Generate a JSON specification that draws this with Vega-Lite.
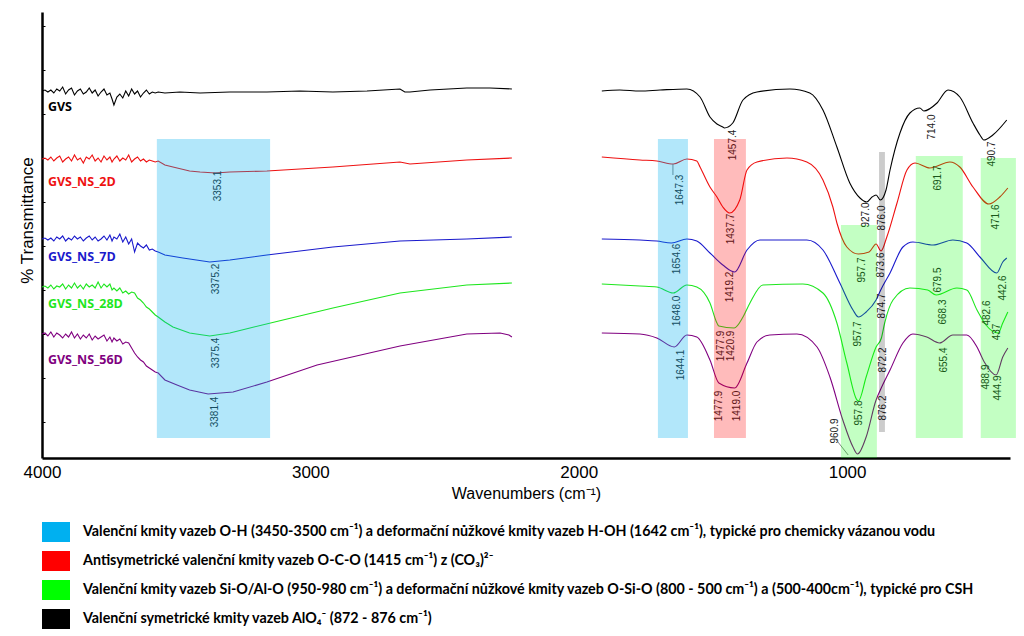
{
"$schema":"https://vega.github.io/schema/vega-lite/v6.json",
"width":968,"height":446,
"autosize":{"type":"none"},
"padding":{"left":42,"top":12,"right":14,"bottom":178},
"background":"white",
"config":{"view":{"stroke":null},"font":"Liberation Sans"},
"datasets":{
"spectra":[
{"series":"GVS","seg":"a","wn":4000,"t":367},{"series":"GVS","seg":"a","wn":3989,"t":368},{"series":"GVS","seg":"a","wn":3978,"t":366},{"series":"GVS","seg":"a","wn":3967,"t":368},{"series":"GVS","seg":"a","wn":3956,"t":365},{"series":"GVS","seg":"a","wn":3945,"t":369},{"series":"GVS","seg":"a","wn":3934,"t":367},{"series":"GVS","seg":"a","wn":3923,"t":371},{"series":"GVS","seg":"a","wn":3912,"t":364},{"series":"GVS","seg":"a","wn":3901,"t":368},{"series":"GVS","seg":"a","wn":3890,"t":370},{"series":"GVS","seg":"a","wn":3879,"t":363},{"series":"GVS","seg":"a","wn":3868,"t":367},{"series":"GVS","seg":"a","wn":3857,"t":369},{"series":"GVS","seg":"a","wn":3846,"t":364},{"series":"GVS","seg":"a","wn":3835,"t":366},{"series":"GVS","seg":"a","wn":3824,"t":370},{"series":"GVS","seg":"a","wn":3813,"t":365},{"series":"GVS","seg":"a","wn":3802,"t":368},{"series":"GVS","seg":"a","wn":3791,"t":362},{"series":"GVS","seg":"a","wn":3780,"t":366},{"series":"GVS","seg":"a","wn":3769,"t":369},{"series":"GVS","seg":"a","wn":3758,"t":363},{"series":"GVS","seg":"a","wn":3747,"t":365},{"series":"GVS","seg":"a","wn":3739,"t":359},{"series":"GVS","seg":"a","wn":3732,"t":353},{"series":"GVS","seg":"a","wn":3721,"t":361},{"series":"GVS","seg":"a","wn":3710,"t":364},{"series":"GVS","seg":"a","wn":3699,"t":360},{"series":"GVS","seg":"a","wn":3688,"t":367},{"series":"GVS","seg":"a","wn":3677,"t":362},{"series":"GVS","seg":"a","wn":3666,"t":369},{"series":"GVS","seg":"a","wn":3655,"t":364},{"series":"GVS","seg":"a","wn":3644,"t":367},{"series":"GVS","seg":"a","wn":3633,"t":361},{"series":"GVS","seg":"a","wn":3622,"t":365},{"series":"GVS","seg":"a","wn":3611,"t":368},{"series":"GVS","seg":"a","wn":3600,"t":364},{"series":"GVS","seg":"a","wn":3589,"t":366},{"series":"GVS","seg":"a","wn":3578,"t":365},{"series":"GVS","seg":"a","wn":3567,"t":366},{"series":"GVS","seg":"a","wn":3542,"t":365},{"series":"GVS","seg":"a","wn":3486,"t":366},{"series":"GVS","seg":"a","wn":3411,"t":365},{"series":"GVS","seg":"a","wn":3300,"t":366},{"series":"GVS","seg":"a","wn":3162,"t":366},{"series":"GVS","seg":"a","wn":3039,"t":367},{"series":"GVS","seg":"a","wn":2916,"t":366},{"series":"GVS","seg":"a","wn":2789,"t":367},{"series":"GVS","seg":"a","wn":2666,"t":369},{"series":"GVS","seg":"a","wn":2648,"t":366},{"series":"GVS","seg":"a","wn":2629,"t":366},{"series":"GVS","seg":"a","wn":2554,"t":368},{"series":"GVS","seg":"a","wn":2417,"t":370},{"series":"GVS","seg":"a","wn":2331,"t":370},{"series":"GVS","seg":"a","wn":2249,"t":369},
{"series":"GVS","seg":"b","wn":1914,"t":367},{"series":"GVS","seg":"b","wn":1847,"t":368},{"series":"GVS","seg":"b","wn":1772,"t":367},{"series":"GVS","seg":"b","wn":1697,"t":368},{"series":"GVS","seg":"b","wn":1597,"t":369},{"series":"GVS","seg":"b","wn":1548,"t":361},{"series":"GVS","seg":"b","wn":1511,"t":341},{"series":"GVS","seg":"b","wn":1485,"t":334},{"series":"GVS","seg":"b","wn":1463,"t":331},{"series":"GVS","seg":"b","wn":1457.4,"t":330},{"series":"GVS","seg":"b","wn":1426,"t":335},{"series":"GVS","seg":"b","wn":1388,"t":358},{"series":"GVS","seg":"b","wn":1336,"t":366},{"series":"GVS","seg":"b","wn":1213,"t":369},{"series":"GVS","seg":"b","wn":1139,"t":365},{"series":"GVS","seg":"b","wn":1090,"t":348},{"series":"GVS","seg":"b","wn":1038,"t":311},{"series":"GVS","seg":"b","wn":990,"t":275},{"series":"GVS","seg":"b","wn":952,"t":260},{"series":"GVS","seg":"b","wn":927,"t":256},{"series":"GVS","seg":"b","wn":907,"t":261},{"series":"GVS","seg":"b","wn":892,"t":263},{"series":"GVS","seg":"b","wn":876,"t":258},{"series":"GVS","seg":"b","wn":855,"t":268},{"series":"GVS","seg":"b","wn":840,"t":288},{"series":"GVS","seg":"b","wn":803,"t":325},{"series":"GVS","seg":"b","wn":766,"t":345},{"series":"GVS","seg":"b","wn":729,"t":350},{"series":"GVS","seg":"b","wn":714,"t":347},{"series":"GVS","seg":"b","wn":665,"t":355},{"series":"GVS","seg":"b","wn":624,"t":368},{"series":"GVS","seg":"b","wn":580,"t":361},{"series":"GVS","seg":"b","wn":531,"t":335},{"series":"GVS","seg":"b","wn":505,"t":323},{"series":"GVS","seg":"b","wn":490.7,"t":318},{"series":"GVS","seg":"b","wn":457,"t":323},{"series":"GVS","seg":"b","wn":405,"t":338},
{"series":"GVS_NS_2D","seg":"a","wn":4000,"t":299},{"series":"GVS_NS_2D","seg":"a","wn":3989,"t":300},{"series":"GVS_NS_2D","seg":"a","wn":3978,"t":298},{"series":"GVS_NS_2D","seg":"a","wn":3967,"t":301},{"series":"GVS_NS_2D","seg":"a","wn":3956,"t":297},{"series":"GVS_NS_2D","seg":"a","wn":3945,"t":300},{"series":"GVS_NS_2D","seg":"a","wn":3934,"t":302},{"series":"GVS_NS_2D","seg":"a","wn":3923,"t":296},{"series":"GVS_NS_2D","seg":"a","wn":3912,"t":299},{"series":"GVS_NS_2D","seg":"a","wn":3901,"t":301},{"series":"GVS_NS_2D","seg":"a","wn":3890,"t":297},{"series":"GVS_NS_2D","seg":"a","wn":3879,"t":303},{"series":"GVS_NS_2D","seg":"a","wn":3868,"t":298},{"series":"GVS_NS_2D","seg":"a","wn":3857,"t":300},{"series":"GVS_NS_2D","seg":"a","wn":3846,"t":295},{"series":"GVS_NS_2D","seg":"a","wn":3835,"t":301},{"series":"GVS_NS_2D","seg":"a","wn":3824,"t":299},{"series":"GVS_NS_2D","seg":"a","wn":3813,"t":303},{"series":"GVS_NS_2D","seg":"a","wn":3802,"t":297},{"series":"GVS_NS_2D","seg":"a","wn":3791,"t":300},{"series":"GVS_NS_2D","seg":"a","wn":3780,"t":296},{"series":"GVS_NS_2D","seg":"a","wn":3769,"t":302},{"series":"GVS_NS_2D","seg":"a","wn":3758,"t":298},{"series":"GVS_NS_2D","seg":"a","wn":3747,"t":301},{"series":"GVS_NS_2D","seg":"a","wn":3739,"t":296},{"series":"GVS_NS_2D","seg":"a","wn":3732,"t":299},{"series":"GVS_NS_2D","seg":"a","wn":3721,"t":302},{"series":"GVS_NS_2D","seg":"a","wn":3710,"t":297},{"series":"GVS_NS_2D","seg":"a","wn":3699,"t":300},{"series":"GVS_NS_2D","seg":"a","wn":3688,"t":298},{"series":"GVS_NS_2D","seg":"a","wn":3677,"t":303},{"series":"GVS_NS_2D","seg":"a","wn":3666,"t":296},{"series":"GVS_NS_2D","seg":"a","wn":3655,"t":299},{"series":"GVS_NS_2D","seg":"a","wn":3644,"t":301},{"series":"GVS_NS_2D","seg":"a","wn":3633,"t":297},{"series":"GVS_NS_2D","seg":"a","wn":3622,"t":299},{"series":"GVS_NS_2D","seg":"a","wn":3611,"t":296},{"series":"GVS_NS_2D","seg":"a","wn":3600,"t":298},{"series":"GVS_NS_2D","seg":"a","wn":3589,"t":297},{"series":"GVS_NS_2D","seg":"a","wn":3578,"t":296},{"series":"GVS_NS_2D","seg":"a","wn":3567,"t":297},{"series":"GVS_NS_2D","seg":"a","wn":3542,"t":293},{"series":"GVS_NS_2D","seg":"a","wn":3512,"t":291},{"series":"GVS_NS_2D","seg":"a","wn":3450,"t":287},{"series":"GVS_NS_2D","seg":"a","wn":3411,"t":286},{"series":"GVS_NS_2D","seg":"a","wn":3353,"t":285},{"series":"GVS_NS_2D","seg":"a","wn":3300,"t":286},{"series":"GVS_NS_2D","seg":"a","wn":3162,"t":287},{"series":"GVS_NS_2D","seg":"a","wn":2916,"t":291},{"series":"GVS_NS_2D","seg":"a","wn":2666,"t":296},{"series":"GVS_NS_2D","seg":"a","wn":2629,"t":294},{"series":"GVS_NS_2D","seg":"a","wn":2417,"t":298},{"series":"GVS_NS_2D","seg":"a","wn":2249,"t":300},
{"series":"GVS_NS_2D","seg":"b","wn":1914,"t":301},{"series":"GVS_NS_2D","seg":"b","wn":1772,"t":298},{"series":"GVS_NS_2D","seg":"b","wn":1709,"t":297},{"series":"GVS_NS_2D","seg":"b","wn":1647.3,"t":294},{"series":"GVS_NS_2D","seg":"b","wn":1597,"t":299},{"series":"GVS_NS_2D","seg":"b","wn":1560,"t":297},{"series":"GVS_NS_2D","seg":"b","wn":1548,"t":291},{"series":"GVS_NS_2D","seg":"b","wn":1511,"t":271},{"series":"GVS_NS_2D","seg":"b","wn":1485,"t":261},{"series":"GVS_NS_2D","seg":"b","wn":1463,"t":251},{"series":"GVS_NS_2D","seg":"b","wn":1437.7,"t":245},{"series":"GVS_NS_2D","seg":"b","wn":1400,"t":258},{"series":"GVS_NS_2D","seg":"b","wn":1373,"t":288},{"series":"GVS_NS_2D","seg":"b","wn":1336,"t":296},{"series":"GVS_NS_2D","seg":"b","wn":1224,"t":300},{"series":"GVS_NS_2D","seg":"b","wn":1150,"t":296},{"series":"GVS_NS_2D","seg":"b","wn":1090,"t":278},{"series":"GVS_NS_2D","seg":"b","wn":1053,"t":251},{"series":"GVS_NS_2D","seg":"b","wn":1038,"t":235},{"series":"GVS_NS_2D","seg":"b","wn":1001,"t":211},{"series":"GVS_NS_2D","seg":"b","wn":957.7,"t":204},{"series":"GVS_NS_2D","seg":"b","wn":918,"t":206},{"series":"GVS_NS_2D","seg":"b","wn":892,"t":214},{"series":"GVS_NS_2D","seg":"b","wn":873.6,"t":207},{"series":"GVS_NS_2D","seg":"b","wn":852,"t":221},{"series":"GVS_NS_2D","seg":"b","wn":814,"t":255},{"series":"GVS_NS_2D","seg":"b","wn":777,"t":288},{"series":"GVS_NS_2D","seg":"b","wn":747,"t":295},{"series":"GVS_NS_2D","seg":"b","wn":691.7,"t":290},{"series":"GVS_NS_2D","seg":"b","wn":617,"t":296},{"series":"GVS_NS_2D","seg":"b","wn":580,"t":291},{"series":"GVS_NS_2D","seg":"b","wn":531,"t":271},{"series":"GVS_NS_2D","seg":"b","wn":471.6,"t":254},{"series":"GVS_NS_2D","seg":"b","wn":431,"t":261},{"series":"GVS_NS_2D","seg":"b","wn":401,"t":270},
{"series":"GVS_NS_7D","seg":"a","wn":4000,"t":219},{"series":"GVS_NS_7D","seg":"a","wn":3989,"t":220},{"series":"GVS_NS_7D","seg":"a","wn":3978,"t":218},{"series":"GVS_NS_7D","seg":"a","wn":3967,"t":220},{"series":"GVS_NS_7D","seg":"a","wn":3956,"t":217},{"series":"GVS_NS_7D","seg":"a","wn":3945,"t":221},{"series":"GVS_NS_7D","seg":"a","wn":3934,"t":219},{"series":"GVS_NS_7D","seg":"a","wn":3923,"t":222},{"series":"GVS_NS_7D","seg":"a","wn":3912,"t":217},{"series":"GVS_NS_7D","seg":"a","wn":3901,"t":220},{"series":"GVS_NS_7D","seg":"a","wn":3890,"t":218},{"series":"GVS_NS_7D","seg":"a","wn":3879,"t":222},{"series":"GVS_NS_7D","seg":"a","wn":3868,"t":219},{"series":"GVS_NS_7D","seg":"a","wn":3857,"t":221},{"series":"GVS_NS_7D","seg":"a","wn":3846,"t":217},{"series":"GVS_NS_7D","seg":"a","wn":3835,"t":220},{"series":"GVS_NS_7D","seg":"a","wn":3824,"t":222},{"series":"GVS_NS_7D","seg":"a","wn":3813,"t":218},{"series":"GVS_NS_7D","seg":"a","wn":3802,"t":221},{"series":"GVS_NS_7D","seg":"a","wn":3791,"t":217},{"series":"GVS_NS_7D","seg":"a","wn":3780,"t":219},{"series":"GVS_NS_7D","seg":"a","wn":3769,"t":222},{"series":"GVS_NS_7D","seg":"a","wn":3758,"t":218},{"series":"GVS_NS_7D","seg":"a","wn":3747,"t":223},{"series":"GVS_NS_7D","seg":"a","wn":3739,"t":217},{"series":"GVS_NS_7D","seg":"a","wn":3732,"t":221},{"series":"GVS_NS_7D","seg":"a","wn":3721,"t":219},{"series":"GVS_NS_7D","seg":"a","wn":3710,"t":224},{"series":"GVS_NS_7D","seg":"a","wn":3699,"t":216},{"series":"GVS_NS_7D","seg":"a","wn":3688,"t":221},{"series":"GVS_NS_7D","seg":"a","wn":3677,"t":214},{"series":"GVS_NS_7D","seg":"a","wn":3666,"t":219},{"series":"GVS_NS_7D","seg":"a","wn":3655,"t":206},{"series":"GVS_NS_7D","seg":"a","wn":3644,"t":215},{"series":"GVS_NS_7D","seg":"a","wn":3633,"t":212},{"series":"GVS_NS_7D","seg":"a","wn":3622,"t":210},{"series":"GVS_NS_7D","seg":"a","wn":3611,"t":213},{"series":"GVS_NS_7D","seg":"a","wn":3600,"t":208},{"series":"GVS_NS_7D","seg":"a","wn":3589,"t":209},{"series":"GVS_NS_7D","seg":"a","wn":3578,"t":207},{"series":"GVS_NS_7D","seg":"a","wn":3567,"t":206},{"series":"GVS_NS_7D","seg":"a","wn":3542,"t":203},{"series":"GVS_NS_7D","seg":"a","wn":3475,"t":200},{"series":"GVS_NS_7D","seg":"a","wn":3375,"t":196},{"series":"GVS_NS_7D","seg":"a","wn":3300,"t":198},{"series":"GVS_NS_7D","seg":"a","wn":3162,"t":203},{"series":"GVS_NS_7D","seg":"a","wn":2916,"t":211},{"series":"GVS_NS_7D","seg":"a","wn":2666,"t":217},{"series":"GVS_NS_7D","seg":"a","wn":2417,"t":219},{"series":"GVS_NS_7D","seg":"a","wn":2249,"t":221},
{"series":"GVS_NS_7D","seg":"b","wn":1914,"t":219},{"series":"GVS_NS_7D","seg":"b","wn":1772,"t":218},{"series":"GVS_NS_7D","seg":"b","wn":1709,"t":217},{"series":"GVS_NS_7D","seg":"b","wn":1654.6,"t":215},{"series":"GVS_NS_7D","seg":"b","wn":1597,"t":219},{"series":"GVS_NS_7D","seg":"b","wn":1560,"t":217},{"series":"GVS_NS_7D","seg":"b","wn":1511,"t":205},{"series":"GVS_NS_7D","seg":"b","wn":1463,"t":193},{"series":"GVS_NS_7D","seg":"b","wn":1419.2,"t":186},{"series":"GVS_NS_7D","seg":"b","wn":1373,"t":208},{"series":"GVS_NS_7D","seg":"b","wn":1325,"t":218},{"series":"GVS_NS_7D","seg":"b","wn":1150,"t":218},{"series":"GVS_NS_7D","seg":"b","wn":1090,"t":208},{"series":"GVS_NS_7D","seg":"b","wn":1027,"t":175},{"series":"GVS_NS_7D","seg":"b","wn":978,"t":148},{"series":"GVS_NS_7D","seg":"b","wn":957.7,"t":141},{"series":"GVS_NS_7D","seg":"b","wn":929,"t":146},{"series":"GVS_NS_7D","seg":"b","wn":892,"t":158},{"series":"GVS_NS_7D","seg":"b","wn":874.7,"t":168},{"series":"GVS_NS_7D","seg":"b","wn":840,"t":185},{"series":"GVS_NS_7D","seg":"b","wn":792,"t":211},{"series":"GVS_NS_7D","seg":"b","wn":755,"t":216},{"series":"GVS_NS_7D","seg":"b","wn":679.5,"t":213},{"series":"GVS_NS_7D","seg":"b","wn":606,"t":218},{"series":"GVS_NS_7D","seg":"b","wn":554,"t":215},{"series":"GVS_NS_7D","seg":"b","wn":505,"t":201},{"series":"GVS_NS_7D","seg":"b","wn":442.6,"t":185},{"series":"GVS_NS_7D","seg":"b","wn":420,"t":196},{"series":"GVS_NS_7D","seg":"b","wn":405,"t":200},
{"series":"GVS_NS_28D","seg":"a","wn":4000,"t":171},{"series":"GVS_NS_28D","seg":"a","wn":3989,"t":172},{"series":"GVS_NS_28D","seg":"a","wn":3978,"t":170},{"series":"GVS_NS_28D","seg":"a","wn":3967,"t":173},{"series":"GVS_NS_28D","seg":"a","wn":3956,"t":169},{"series":"GVS_NS_28D","seg":"a","wn":3945,"t":172},{"series":"GVS_NS_28D","seg":"a","wn":3934,"t":171},{"series":"GVS_NS_28D","seg":"a","wn":3923,"t":174},{"series":"GVS_NS_28D","seg":"a","wn":3912,"t":169},{"series":"GVS_NS_28D","seg":"a","wn":3901,"t":173},{"series":"GVS_NS_28D","seg":"a","wn":3890,"t":170},{"series":"GVS_NS_28D","seg":"a","wn":3879,"t":175},{"series":"GVS_NS_28D","seg":"a","wn":3868,"t":170},{"series":"GVS_NS_28D","seg":"a","wn":3857,"t":173},{"series":"GVS_NS_28D","seg":"a","wn":3846,"t":169},{"series":"GVS_NS_28D","seg":"a","wn":3835,"t":174},{"series":"GVS_NS_28D","seg":"a","wn":3824,"t":171},{"series":"GVS_NS_28D","seg":"a","wn":3813,"t":173},{"series":"GVS_NS_28D","seg":"a","wn":3802,"t":170},{"series":"GVS_NS_28D","seg":"a","wn":3791,"t":176},{"series":"GVS_NS_28D","seg":"a","wn":3780,"t":170},{"series":"GVS_NS_28D","seg":"a","wn":3769,"t":174},{"series":"GVS_NS_28D","seg":"a","wn":3758,"t":171},{"series":"GVS_NS_28D","seg":"a","wn":3747,"t":174},{"series":"GVS_NS_28D","seg":"a","wn":3739,"t":168},{"series":"GVS_NS_28D","seg":"a","wn":3732,"t":170},{"series":"GVS_NS_28D","seg":"a","wn":3721,"t":167},{"series":"GVS_NS_28D","seg":"a","wn":3710,"t":170},{"series":"GVS_NS_28D","seg":"a","wn":3699,"t":165},{"series":"GVS_NS_28D","seg":"a","wn":3688,"t":167},{"series":"GVS_NS_28D","seg":"a","wn":3677,"t":164},{"series":"GVS_NS_28D","seg":"a","wn":3666,"t":166},{"series":"GVS_NS_28D","seg":"a","wn":3655,"t":165},{"series":"GVS_NS_28D","seg":"a","wn":3644,"t":160},{"series":"GVS_NS_28D","seg":"a","wn":3633,"t":158},{"series":"GVS_NS_28D","seg":"a","wn":3622,"t":155},{"series":"GVS_NS_28D","seg":"a","wn":3611,"t":151},{"series":"GVS_NS_28D","seg":"a","wn":3600,"t":149},{"series":"GVS_NS_28D","seg":"a","wn":3589,"t":146},{"series":"GVS_NS_28D","seg":"a","wn":3578,"t":143},{"series":"GVS_NS_28D","seg":"a","wn":3567,"t":141},{"series":"GVS_NS_28D","seg":"a","wn":3542,"t":136},{"series":"GVS_NS_28D","seg":"a","wn":3512,"t":131},{"series":"GVS_NS_28D","seg":"a","wn":3450,"t":125},{"series":"GVS_NS_28D","seg":"a","wn":3375,"t":122},{"series":"GVS_NS_28D","seg":"a","wn":3300,"t":125},{"series":"GVS_NS_28D","seg":"a","wn":3225,"t":130},{"series":"GVS_NS_28D","seg":"a","wn":3102,"t":138},{"series":"GVS_NS_28D","seg":"a","wn":2916,"t":150},{"series":"GVS_NS_28D","seg":"a","wn":2666,"t":165},{"series":"GVS_NS_28D","seg":"a","wn":2417,"t":173},{"series":"GVS_NS_28D","seg":"a","wn":2249,"t":175},
{"series":"GVS_NS_28D","seg":"b","wn":1914,"t":174},{"series":"GVS_NS_28D","seg":"b","wn":1772,"t":172},{"series":"GVS_NS_28D","seg":"b","wn":1709,"t":171},{"series":"GVS_NS_28D","seg":"b","wn":1648,"t":165},{"series":"GVS_NS_28D","seg":"b","wn":1597,"t":173},{"series":"GVS_NS_28D","seg":"b","wn":1560,"t":171},{"series":"GVS_NS_28D","seg":"b","wn":1511,"t":155},{"series":"GVS_NS_28D","seg":"b","wn":1485,"t":135},{"series":"GVS_NS_28D","seg":"b","wn":1477.9,"t":132},{"series":"GVS_NS_28D","seg":"b","wn":1420.9,"t":130},{"series":"GVS_NS_28D","seg":"b","wn":1388,"t":141},{"series":"GVS_NS_28D","seg":"b","wn":1362,"t":155},{"series":"GVS_NS_28D","seg":"b","wn":1314,"t":173},{"series":"GVS_NS_28D","seg":"b","wn":1165,"t":174},{"series":"GVS_NS_28D","seg":"b","wn":1090,"t":165},{"series":"GVS_NS_28D","seg":"b","wn":1038,"t":135},{"series":"GVS_NS_28D","seg":"b","wn":1001,"t":95},{"series":"GVS_NS_28D","seg":"b","wn":963,"t":58},{"series":"GVS_NS_28D","seg":"b","wn":957.8,"t":57},{"series":"GVS_NS_28D","seg":"b","wn":929,"t":81},{"series":"GVS_NS_28D","seg":"b","wn":892,"t":111},{"series":"GVS_NS_28D","seg":"b","wn":872.2,"t":120},{"series":"GVS_NS_28D","seg":"b","wn":860,"t":135},{"series":"GVS_NS_28D","seg":"b","wn":829,"t":158},{"series":"GVS_NS_28D","seg":"b","wn":766,"t":170},{"series":"GVS_NS_28D","seg":"b","wn":700,"t":168},{"series":"GVS_NS_28D","seg":"b","wn":668.3,"t":163},{"series":"GVS_NS_28D","seg":"b","wn":591,"t":170},{"series":"GVS_NS_28D","seg":"b","wn":554,"t":168},{"series":"GVS_NS_28D","seg":"b","wn":516,"t":148},{"series":"GVS_NS_28D","seg":"b","wn":482.6,"t":133},{"series":"GVS_NS_28D","seg":"b","wn":437,"t":125},{"series":"GVS_NS_28D","seg":"b","wn":420,"t":135},{"series":"GVS_NS_28D","seg":"b","wn":401,"t":146},
{"series":"GVS_NS_56D","seg":"a","wn":4000,"t":124},{"series":"GVS_NS_56D","seg":"a","wn":3989,"t":125},{"series":"GVS_NS_56D","seg":"a","wn":3978,"t":122},{"series":"GVS_NS_56D","seg":"a","wn":3967,"t":126},{"series":"GVS_NS_56D","seg":"a","wn":3956,"t":121},{"series":"GVS_NS_56D","seg":"a","wn":3945,"t":125},{"series":"GVS_NS_56D","seg":"a","wn":3934,"t":123},{"series":"GVS_NS_56D","seg":"a","wn":3923,"t":120},{"series":"GVS_NS_56D","seg":"a","wn":3912,"t":124},{"series":"GVS_NS_56D","seg":"a","wn":3901,"t":121},{"series":"GVS_NS_56D","seg":"a","wn":3890,"t":126},{"series":"GVS_NS_56D","seg":"a","wn":3879,"t":120},{"series":"GVS_NS_56D","seg":"a","wn":3868,"t":124},{"series":"GVS_NS_56D","seg":"a","wn":3857,"t":119},{"series":"GVS_NS_56D","seg":"a","wn":3846,"t":123},{"series":"GVS_NS_56D","seg":"a","wn":3835,"t":120},{"series":"GVS_NS_56D","seg":"a","wn":3824,"t":124},{"series":"GVS_NS_56D","seg":"a","wn":3813,"t":118},{"series":"GVS_NS_56D","seg":"a","wn":3802,"t":122},{"series":"GVS_NS_56D","seg":"a","wn":3791,"t":119},{"series":"GVS_NS_56D","seg":"a","wn":3780,"t":121},{"series":"GVS_NS_56D","seg":"a","wn":3769,"t":123},{"series":"GVS_NS_56D","seg":"a","wn":3758,"t":117},{"series":"GVS_NS_56D","seg":"a","wn":3747,"t":121},{"series":"GVS_NS_56D","seg":"a","wn":3739,"t":116},{"series":"GVS_NS_56D","seg":"a","wn":3732,"t":120},{"series":"GVS_NS_56D","seg":"a","wn":3721,"t":117},{"series":"GVS_NS_56D","seg":"a","wn":3710,"t":119},{"series":"GVS_NS_56D","seg":"a","wn":3699,"t":114},{"series":"GVS_NS_56D","seg":"a","wn":3688,"t":116},{"series":"GVS_NS_56D","seg":"a","wn":3677,"t":115},{"series":"GVS_NS_56D","seg":"a","wn":3666,"t":110},{"series":"GVS_NS_56D","seg":"a","wn":3655,"t":105},{"series":"GVS_NS_56D","seg":"a","wn":3644,"t":101},{"series":"GVS_NS_56D","seg":"a","wn":3633,"t":98},{"series":"GVS_NS_56D","seg":"a","wn":3622,"t":96},{"series":"GVS_NS_56D","seg":"a","wn":3611,"t":92},{"series":"GVS_NS_56D","seg":"a","wn":3600,"t":90},{"series":"GVS_NS_56D","seg":"a","wn":3589,"t":88},{"series":"GVS_NS_56D","seg":"a","wn":3578,"t":86},{"series":"GVS_NS_56D","seg":"a","wn":3567,"t":85},{"series":"GVS_NS_56D","seg":"a","wn":3542,"t":78},{"series":"GVS_NS_56D","seg":"a","wn":3497,"t":73},{"series":"GVS_NS_56D","seg":"a","wn":3450,"t":68},{"series":"GVS_NS_56D","seg":"a","wn":3381,"t":64},{"series":"GVS_NS_56D","seg":"a","wn":3288,"t":66},{"series":"GVS_NS_56D","seg":"a","wn":3162,"t":76},{"series":"GVS_NS_56D","seg":"a","wn":2975,"t":93},{"series":"GVS_NS_56D","seg":"a","wn":2666,"t":112},{"series":"GVS_NS_56D","seg":"a","wn":2417,"t":124},{"series":"GVS_NS_56D","seg":"a","wn":2293,"t":125},{"series":"GVS_NS_56D","seg":"a","wn":2260,"t":123},{"series":"GVS_NS_56D","seg":"a","wn":2249,"t":121},
{"series":"GVS_NS_56D","seg":"b","wn":1914,"t":125},{"series":"GVS_NS_56D","seg":"b","wn":1772,"t":124},{"series":"GVS_NS_56D","seg":"b","wn":1709,"t":120},{"series":"GVS_NS_56D","seg":"b","wn":1644.1,"t":111},{"series":"GVS_NS_56D","seg":"b","wn":1597,"t":123},{"series":"GVS_NS_56D","seg":"b","wn":1560,"t":121},{"series":"GVS_NS_56D","seg":"b","wn":1511,"t":98},{"series":"GVS_NS_56D","seg":"b","wn":1477.9,"t":75},{"series":"GVS_NS_56D","seg":"b","wn":1419,"t":70},{"series":"GVS_NS_56D","seg":"b","wn":1373,"t":95},{"series":"GVS_NS_56D","seg":"b","wn":1336,"t":116},{"series":"GVS_NS_56D","seg":"b","wn":1288,"t":123},{"series":"GVS_NS_56D","seg":"b","wn":1187,"t":124},{"series":"GVS_NS_56D","seg":"b","wn":1112,"t":111},{"series":"GVS_NS_56D","seg":"b","wn":1064,"t":81},{"series":"GVS_NS_56D","seg":"b","wn":1016,"t":38},{"series":"GVS_NS_56D","seg":"b","wn":978,"t":11},{"series":"GVS_NS_56D","seg":"b","wn":960.9,"t":4},{"series":"GVS_NS_56D","seg":"b","wn":929,"t":21},{"series":"GVS_NS_56D","seg":"b","wn":892,"t":58},{"series":"GVS_NS_56D","seg":"b","wn":876.2,"t":68},{"series":"GVS_NS_56D","seg":"b","wn":840,"t":88},{"series":"GVS_NS_56D","seg":"b","wn":792,"t":115},{"series":"GVS_NS_56D","seg":"b","wn":755,"t":124},{"series":"GVS_NS_56D","seg":"b","wn":703,"t":121},{"series":"GVS_NS_56D","seg":"b","wn":655.4,"t":115},{"series":"GVS_NS_56D","seg":"b","wn":606,"t":123},{"series":"GVS_NS_56D","seg":"b","wn":554,"t":123},{"series":"GVS_NS_56D","seg":"b","wn":516,"t":111},{"series":"GVS_NS_56D","seg":"b","wn":488.9,"t":96},{"series":"GVS_NS_56D","seg":"b","wn":444.9,"t":83},{"series":"GVS_NS_56D","seg":"b","wn":420,"t":101},{"series":"GVS_NS_56D","seg":"b","wn":401,"t":110}
],
"bands":[
{"cat":"Valenční kmity vazeb O-H (3450-3500 cm⁻¹) a deformační nůžkové kmity vazeb H-OH (1642 cm⁻¹), typické pro chemicky vázanou vodu","x1":3572,"x2":3150,"y1":20,"y2":319},
{"cat":"Valenční kmity vazeb O-H (3450-3500 cm⁻¹) a deformační nůžkové kmity vazeb H-OH (1642 cm⁻¹), typické pro chemicky vázanou vodu","x1":1705,"x2":1593,"y1":20,"y2":319},
{"cat":"Antisymetrické valenční kmity vazeb O-C-O (1415 cm⁻¹) z (CO₃)²⁻","x1":1496,"x2":1377,"y1":20,"y2":319},
{"cat":"Valenční kmity vazeb Si-O/Al-O (950-980 cm⁻¹) a deformační nůžkové kmity vazeb O-Si-O (800 - 500 cm⁻¹) a (500-400cm⁻¹), typické pro CSH","x1":1023,"x2":889,"y1":0,"y2":233},
{"cat":"Valenční kmity vazeb Si-O/Al-O (950-980 cm⁻¹) a deformační nůžkové kmity vazeb O-Si-O (800 - 500 cm⁻¹) a (500-400cm⁻¹), typické pro CSH","x1":744,"x2":569,"y1":20,"y2":302},
{"cat":"Valenční kmity vazeb Si-O/Al-O (950-980 cm⁻¹) a deformační nůžkové kmity vazeb O-Si-O (800 - 500 cm⁻¹) a (500-400cm⁻¹), typické pro CSH","x1":502,"x2":371,"y1":20,"y2":300},
{"cat":"Valenční symetrické kmity vazeb AlO₄⁻ (872 - 876 cm⁻¹)","x1":881,"x2":859,"y1":26,"y2":306}
],
"peaks":[
{"label":"3353.1","wn":3344,"t":272},{"label":"3375.2","wn":3352,"t":179},{"label":"3375.4","wn":3352,"t":105},{"label":"3381.4","wn":3355,"t":46},
{"label":"1457.4","wn":1426,"t":313},{"label":"1647.3","wn":1623,"t":268},{"label":"714.0","wn":684,"t":331},{"label":"490.7","wn":460,"t":304},
{"label":"691.7","wn":662,"t":280},{"label":"927.0","wn":930,"t":243},{"label":"876.0","wn":870,"t":240},{"label":"1437.7","wn":1433,"t":229},
{"label":"471.6","wn":446,"t":241},{"label":"1654.6","wn":1634,"t":199},{"label":"1419.2","wn":1437,"t":171},{"label":"957.7","wn":945,"t":188},
{"label":"873.6","wn":874,"t":193},{"label":"679.5","wn":662,"t":178},{"label":"442.6","wn":420,"t":170},{"label":"1648.0","wn":1634,"t":147},
{"label":"874.7","wn":870,"t":152},{"label":"668.3","wn":643,"t":146},{"label":"957.7","wn":960,"t":124},{"label":"1477.9","wn":1470,"t":112},
{"label":"1420.9","wn":1433,"t":112},{"label":"872.2","wn":867,"t":98},{"label":"482.6","wn":479,"t":145},{"label":"437","wn":442,"t":126},
{"label":"1644.1","wn":1619,"t":93},{"label":"1477.9","wn":1478,"t":52},{"label":"1419.0","wn":1411,"t":52},{"label":"957.8","wn":956,"t":45},
{"label":"876.2","wn":867,"t":50},{"label":"960.9","wn":1045,"t":27},{"label":"655.4","wn":639,"t":98},{"label":"488.9","wn":483,"t":81},
{"label":"444.9","wn":438,"t":70}
],
"leaders":[
{"wn":1040,"t":18,"wn2":996,"t2":3},
{"wn":1649,"t":294,"wn2":1649,"t2":283}
],
"names":[
{"series":"GVS","wn":3978,"t":351},{"series":"GVS_NS_2D","wn":3978,"t":276},{"series":"GVS_NS_7D","wn":3978,"t":201},{"series":"GVS_NS_28D","wn":3978,"t":154},{"series":"GVS_NS_56D","wn":3978,"t":98}
]
},
"layer":[
{"data":{"name":"spectra"},
 "transform":[{"filter":"datum.seg == 'a'"}],
 "mark":{"type":"line","strokeWidth":1.1,"clip":true,"interpolate":"linear"},
 "encoding":{
  "x":{"field":"wn","type":"quantitative","title":"Wavenumbers (cm⁻¹)",
    "scale":{"domain":[393,4000],"reverse":true,"nice":false,"zero":false},
    "axis":{"values":[4000,3000,2000,1000],"format":"d","labelFlush":false,"grid":false,"ticks":false,"domainColor":"#000","domainWidth":2.5,"labelFont":"Liberation Sans","labelFontSize":17,"labelColor":"#000","labelPadding":6,"titleFont":"Liberation Sans","titleFontSize":16,"titleFontWeight":"normal","titleColor":"#000","titleBaseline":"alphabetic","titleY":40}},
  "y":{"field":"t","type":"quantitative","title":"% Transmittance",
    "scale":{"domain":[0,446],"nice":false,"zero":false},
    "axis":{"values":[36,80,124,168,212,256,300,344,388,432],"grid":false,"labels":false,"tickSize":-3,"tickColor":"#000","domainColor":"#000","domainWidth":2.5,"titleFont":"Liberation Sans","titleFontSize":17,"titleFontWeight":"normal","titleColor":"#000","titleBaseline":"alphabetic","titleX":-10,"titleY":208}},
  "color":{"field":"series","type":"nominal","legend":null,
    "scale":{"domain":["GVS","GVS_NS_2D","GVS_NS_7D","GVS_NS_28D","GVS_NS_56D"],"range":["#000000","#ee1111","#1a1acc","#1ee61e","#800080"]}},
  "detail":{"field":"seg","type":"nominal"}
 }},
{"data":{"name":"spectra"},
 "transform":[{"filter":"datum.seg == 'b'"}],
 "mark":{"type":"line","strokeWidth":1.1,"clip":true,"interpolate":"monotone"},
 "encoding":{
  "x":{"field":"wn","type":"quantitative","title":"Wavenumbers (cm⁻¹)"},
  "y":{"field":"t","type":"quantitative","title":"% Transmittance"},
  "color":{"field":"series","type":"nominal","legend":null},
  "detail":{"field":"seg","type":"nominal"}
 }},
{"data":{"name":"names"},
 "mark":{"type":"text","align":"left","baseline":"middle","font":"Open Sans","fontSize":12.5,"fontWeight":"bold"},
 "encoding":{
  "x":{"field":"wn","type":"quantitative","title":"Wavenumbers (cm⁻¹)"},
  "y":{"field":"t","type":"quantitative","title":"% Transmittance"},
  "text":{"field":"series"},
  "color":{"field":"series","type":"nominal","legend":null}
 }},
{"data":{"name":"peaks"},
 "mark":{"type":"text","angle":270,"align":"center","baseline":"middle","font":"Liberation Sans","fontSize":10,"fill":"#222222"},
 "encoding":{
  "x":{"field":"wn","type":"quantitative","title":"Wavenumbers (cm⁻¹)"},
  "y":{"field":"t","type":"quantitative","title":"% Transmittance"},
  "text":{"field":"label"}
 }},
{"data":{"name":"leaders"},
 "mark":{"type":"rule","stroke":"#666666","strokeWidth":0.8},
 "encoding":{
  "x":{"field":"wn","type":"quantitative","title":"Wavenumbers (cm⁻¹)"},
  "x2":{"field":"wn2"},
  "y":{"field":"t","type":"quantitative","title":"% Transmittance"},
  "y2":{"field":"t2"}
 }},
{"data":{"name":"bands"},
 "mark":{"type":"rect","strokeWidth":0},
 "encoding":{
  "x":{"field":"x1","type":"quantitative","title":"Wavenumbers (cm⁻¹)"},
  "x2":{"field":"x2"},
  "y":{"field":"y1","type":"quantitative","title":"% Transmittance"},
  "y2":{"field":"y2"},
  "fillOpacity":{"field":"cat","type":"ordinal","legend":null,
    "scale":{"domain":["Valenční kmity vazeb O-H (3450-3500 cm⁻¹) a deformační nůžkové kmity vazeb H-OH (1642 cm⁻¹), typické pro chemicky vázanou vodu","Antisymetrické valenční kmity vazeb O-C-O (1415 cm⁻¹) z (CO₃)²⁻","Valenční kmity vazeb Si-O/Al-O (950-980 cm⁻¹) a deformační nůžkové kmity vazeb O-Si-O (800 - 500 cm⁻¹) a (500-400cm⁻¹), typické pro CSH","Valenční symetrické kmity vazeb AlO₄⁻ (872 - 876 cm⁻¹)"],"range":[0.3,0.2,0.32,0.33]}},
  "fill":{"field":"cat","type":"nominal",
    "scale":{"domain":["Valenční kmity vazeb O-H (3450-3500 cm⁻¹) a deformační nůžkové kmity vazeb H-OH (1642 cm⁻¹), typické pro chemicky vázanou vodu","Antisymetrické valenční kmity vazeb O-C-O (1415 cm⁻¹) z (CO₃)²⁻","Valenční kmity vazeb Si-O/Al-O (950-980 cm⁻¹) a deformační nůžkové kmity vazeb O-Si-O (800 - 500 cm⁻¹) a (500-400cm⁻¹), typické pro CSH","Valenční symetrické kmity vazeb AlO₄⁻ (872 - 876 cm⁻¹)"],"range":["#00b0f0","#ff0000","#00ff00","#000000"]},
    "legend":{"orient":"none","legendX":0,"legendY":506,"direction":"vertical","title":null,"padding":0,
      "symbolType":"M-1,-0.7143L1,-0.7143L1,0.7143L-1,0.7143Z","symbolSize":784,"symbolOpacity":1,"symbolStrokeWidth":0,
      "labelFont":"Lato","labelFontSize":14.3,"labelFontWeight":"bold","labelColor":"#000","labelLimit":1000,"labelOffset":13,"rowPadding":4,
      "encode":{"symbols":{"update":{"fillOpacity":{"value":1},"opacity":{"value":1}}}}}}
 }}
]
}
